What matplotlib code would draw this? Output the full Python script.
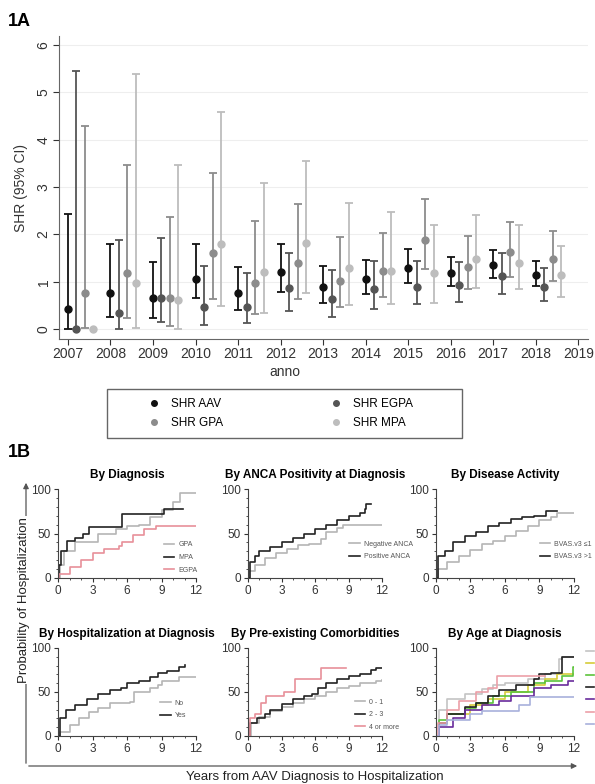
import numpy as np
import matplotlib
matplotlib.use('Agg')
import matplotlib.pyplot as plt
from matplotlib.lines import Line2D
from matplotlib.patches import FancyArrowPatch, Rectangle
from matplotlib.ticker import MultipleLocator

plt.rcParams['font.family'] = ['Liberation Sans', 'DejaVu Sans']

# ---- 1A: SHR per anno ----
YEARS = np.arange(2007, 2019)
nan = np.nan

shr_aav = [0.42, 0.77, 0.65, 1.05, 0.77, 1.20, 0.88, 1.05, 1.30, 1.19, 1.35, 1.14]
lo_aav  = [0.01, 0.25, 0.24, 0.66, 0.40, 0.79, 0.56, 0.74, 0.98, 0.92, 1.08, 0.91]
hi_aav  = [2.43, 1.79, 1.41, 1.79, 1.32, 1.79, 1.33, 1.46, 1.70, 1.53, 1.68, 1.43]

shr_egpa = [0.00, 0.33, 0.65, 0.46, 0.47, 0.86, 0.63, 0.84, 0.89, 0.93, 1.13, 0.89]
lo_egpa  = [0.00, 0.01, 0.14, 0.09, 0.13, 0.39, 0.26, 0.43, 0.53, 0.58, 0.75, 0.59]
hi_egpa  = [5.46, 1.88, 1.93, 1.34, 1.19, 1.61, 1.25, 1.43, 1.44, 1.42, 1.61, 1.30]

shr_gpa = [0.77, 1.18, 0.65, 1.60, 0.97, 1.39, 1.01, 1.23, 1.89, 1.32, 1.62, 1.48]
lo_gpa  = [0.02, 0.24, 0.07, 0.64, 0.32, 0.63, 0.46, 0.68, 1.26, 0.84, 1.10, 1.01]
hi_gpa  = [4.29, 3.46, 2.36, 3.29, 2.29, 2.64, 1.94, 2.02, 2.75, 1.96, 2.27, 2.08]

shr_mpa = [0.00, 0.97, 0.61, 1.79, 1.20, 1.81, 1.28, 1.23, 1.19, 1.49, 1.39, 1.14]
lo_mpa  = [nan,  0.02, 0.01, 0.49, 0.33, 0.77, 0.51, 0.53, 0.56, 0.86, 0.85, 0.68]
hi_mpa  = [nan,  5.39, 3.46, 4.58, 3.09, 3.56, 2.67, 2.47, 2.20, 2.40, 2.19, 1.75]

SERIES = [('SHR AAV', shr_aav, lo_aav, hi_aav, '#111111', 0.0),
          ('SHR EGPA', shr_egpa, lo_egpa, hi_egpa, '#555555', 0.2),
          ('SHR GPA', shr_gpa, lo_gpa, hi_gpa, '#8c8c8c', 0.4),
          ('SHR MPA', shr_mpa, lo_mpa, hi_mpa, '#bdbdbd', 0.6)]

# ---- 1B: incidenza cumulativa (tempo, %) ----
dx_gpa  = [(0, 0), (0.2, 15), (0.5, 30), (1.5, 40), (3.5, 49), (5, 55), (6, 58), (7, 60),
           (8, 68), (9, 76), (10, 85), (10.6, 95), (12, 95)]
dx_mpa  = [(0, 0), (0.1, 15), (0.3, 30), (0.8, 42), (1.5, 45), (2.2, 50), (2.7, 57),
           (5.6, 72), (9.2, 78), (10.9, 78)]
dx_egpa = [(0, 0), (0.1, 5), (1, 12), (2, 20), (3, 28), (4, 33), (5.3, 36), (5.6, 40),
           (6.5, 48), (7.5, 55), (8.5, 58), (12, 58)]

anca_neg = [(0, 0), (0.1, 8), (0.6, 15), (1.5, 22), (2.5, 28), (3.5, 33), (4.5, 37),
            (5.5, 38), (6.5, 44), (7, 52), (8, 56), (8.5, 60), (12, 60)]
anca_pos = [(0, 0), (0.2, 18), (0.6, 25), (1, 30), (2, 35), (3, 40), (4, 45), (5, 50),
            (6, 55), (7, 60), (8, 65), (9, 70), (10, 73), (10.5, 77), (10.6, 83), (11, 83)]

bvas_lo = [(0, 0), (0.2, 10), (1, 18), (2, 25), (3, 32), (4, 38), (5, 42), (6, 47),
           (7, 53), (8, 58), (9, 65), (10, 68), (10.5, 73), (12, 73)]
bvas_hi = [(0, 0), (0.2, 25), (0.8, 30), (1.5, 40), (2.5, 47), (3.5, 52), (4.5, 58),
           (5.5, 62), (6.5, 66), (7.5, 69), (8.5, 70), (9.6, 75), (10.5, 75)]

hosp_no  = [(0, 0), (0.2, 5), (1, 12), (1.8, 20), (2.7, 27), (3.5, 32), (4.5, 37),
            (5.5, 38), (6.3, 39), (6.6, 50), (8, 55), (8.7, 58), (9, 62), (10.5, 67), (12, 67)]
hosp_yes = [(0, 0), (0.2, 20), (0.7, 30), (1.5, 35), (2.5, 42), (3.5, 48), (4.5, 52),
            (5.5, 55), (6, 60), (7, 63), (8, 67), (8.7, 72), (9.5, 74), (10.5, 78), (11, 81)]

com_01   = [(0, 0), (0.3, 15), (1, 22), (2, 28), (3, 33), (4, 38), (5, 42), (6, 46),
            (7, 50), (8, 54), (9, 57), (10, 60), (11.5, 63), (12, 64)]
com_23   = [(0, 0), (0.2, 15), (0.8, 20), (1.5, 25), (2, 30), (3, 36), (4, 42), (5, 45),
            (5.7, 48), (6.3, 55), (7, 60), (8, 65), (9, 68), (10, 70), (11, 75), (11.5, 77), (12, 77)]
com_4    = [(0, 0), (0.2, 20), (0.6, 25), (1.2, 38), (1.6, 45), (3.2, 50), (4.2, 65),
            (6.5, 77), (8.8, 77)]

age_1 = [(0, 0), (0.3, 30), (1, 42), (2.5, 48), (4, 53), (5, 58), (6, 60), (8, 65),
         (9.5, 70), (10.7, 88), (11, 90), (12, 90)]
age_2 = [(0, 0), (0.3, 15), (1, 25), (3, 35), (4.5, 42), (6, 50), (8, 58), (9.5, 65),
         (10.5, 70), (12, 70)]
age_3 = [(0, 0), (0.3, 18), (1, 25), (2.5, 32), (3.5, 38), (5, 45), (6.5, 50), (8.5, 60),
         (9.5, 62), (11, 68), (11.9, 78), (12, 78)]
age_4 = [(0, 0), (0.3, 15), (1, 25), (2.5, 33), (3.5, 38), (4.5, 45), (5.5, 52), (7, 58),
         (8.5, 65), (9, 70), (10, 72), (11, 90), (12, 90)]
age_5 = [(0, 0), (0.3, 10), (1.5, 20), (2.5, 30), (4, 35), (5.5, 40), (6.5, 45), (8.5, 55),
         (10, 58), (11.5, 62), (12, 63)]
age_6 = [(0, 0), (0.2, 15), (1, 30), (2, 40), (3.5, 50), (4.5, 55), (5.3, 68), (9.5, 68)]
age_7 = [(0, 0), (0.3, 12), (1, 18), (3, 25), (4, 28), (7.2, 35), (8.2, 44), (12, 44)]

GRAY, BLACK, PINK = '#b5b5b5', '#222222', '#e8909a'

PANELS = [
    ('By Diagnosis', [('GPA', dx_gpa, GRAY), ('MPA', dx_mpa, BLACK), ('EGPA', dx_egpa, PINK)]),
    ('By ANCA Positivity at Diagnosis', [('Negative ANCA', anca_neg, GRAY),
                                         ('Positive ANCA', anca_pos, BLACK)]),
    ('By Disease Activity', [('BVAS.v3 \u22641', bvas_lo, GRAY), ('BVAS.v3 >1', bvas_hi, BLACK)]),
    ('By Hospitalization at Diagnosis', [('No', hosp_no, GRAY), ('Yes', hosp_yes, BLACK)]),
    ('By Pre-existing Comorbidities', [('0 - 1', com_01, GRAY), ('2 - 3', com_23, BLACK),
                                       ('4 or more', com_4, PINK)]),
    ('By Age at Diagnosis', [(' ', age_1, '#c4c4c4'), (' ', age_2, '#d6cc3a'),
                             (' ', age_3, '#5cc43c'), (' ', age_4, BLACK),
                             (' ', age_5, '#6a2c9c'), (' ', age_6, '#eca0a8'),
                             (' ', age_7, '#a8b0dc')]),
]

W, H = 595, 784
fig = plt.figure(figsize=(W/100, H/100), dpi=100)


def fx(px): return px / W
def fy(py): return 1 - py / H


# ---------------- 1A ----------------
ax = fig.add_axes([fx(59), fy(339), fx(529), 303/H])
for lbl, v, lo, hi, col, off in SERIES:
    v = np.array(v); lo = np.array(lo); hi = np.array(hi)
    ax.errorbar(YEARS + off, v, yerr=[v - lo, hi - v], fmt='o', color=col, ms=5,
                elinewidth=1.3, capsize=3, capthick=1.3, label=lbl, zorder=3)
ax.set_xlim(2006.79, 2019.23)
ax.set_ylim(-0.21, 6.19)
ax.set_xticks(np.arange(2007, 2020))
ax.set_yticks(range(7))
ax.tick_params(axis='x', labelsize=10, colors='#333333', length=4, pad=2)
ax.tick_params(axis='y', labelsize=10, colors='#333333', length=4, labelrotation=90, pad=2)
for t in ax.get_yticklabels():
    t.set_va('center')
ax.set_ylabel('SHR (95% CI)', fontsize=10, color='#333333', labelpad=6)
ax.yaxis.grid(True, color='#eeeeee', lw=0.8, zorder=0)
ax.set_axisbelow(True)
for sp in ['top', 'right']: ax.spines[sp].set_visible(False)
for sp in ['left', 'bottom']: ax.spines[sp].set_color('#666666')
fig.text(fx(285), fy(372), 'anno', ha='center', va='center', fontsize=10, color='#333333')

# riquadro legenda
fig.add_artist(Rectangle((fx(107), fy(438)), fx(355), 49/H, transform=fig.transFigure,
                         fill=False, edgecolor='#666666', lw=1.0))
handles = [Line2D([], [], ls='none', marker='o', ms=4, color=s[4]) for s in SERIES]
labels = [s[0] for s in SERIES]
order = [0, 2, 1, 3]
fig.legend([handles[i] for i in order], [labels[i] for i in order], ncol=2,
           loc='center', bbox_to_anchor=(fx(280), fy(413.5)), fontsize=8.5,
           frameon=False, handlelength=1.2, handletextpad=0.8, columnspacing=9.0,
           labelspacing=0.55, borderaxespad=0, borderpad=0)

fig.text(fx(8), fy(22), '1A', ha='left', va='center', fontsize=13, fontweight='bold')
fig.text(fx(8), fy(453), '1B', ha='left', va='center', fontsize=13, fontweight='bold')

# ---------------- 1B ----------------
COLS = [(58, 138), (248, 134), (436, 138)]
ROWS = [(578, 89), (736, 88)]
LEG_POS = [(1.01, 0.05), (1.23, 0.2), (1.13, 0.2), (0.93, 0.19), (1.13, 0.06), (1.19, 1.0)]

for k, (title, curves) in enumerate(PANELS):
    cx, cw = COLS[k % 3]
    ry, rh = ROWS[k // 3]
    a = fig.add_axes([fx(cx), fy(ry), fx(cw), rh/H])
    for lbl, pts, col in curves:
        t = [p[0] for p in pts]
        y = [p[1] for p in pts]
        a.step(t, y, where='post', color=col, lw=1.2, label=lbl)
    a.set_xlim(0, 12)
    a.set_ylim(0, 100)
    a.set_xticks([0, 3, 6, 9, 12])
    a.set_yticks([0, 50, 100])
    a.xaxis.set_minor_locator(MultipleLocator(1))
    a.yaxis.set_minor_locator(MultipleLocator(10))
    a.tick_params(which='major', labelsize=8.5, length=3, colors='#333333', pad=2)
    a.tick_params(which='minor', length=1.5, colors='#333333')
    for sp in ['top', 'right']: a.spines[sp].set_visible(False)
    for sp in ['left', 'bottom']: a.spines[sp].set_color('#444444')
    a.set_title(title, fontsize=8.5, fontweight='bold', pad=8)
    lg = a.legend(loc='lower right' if k != 5 else 'upper right',
                  bbox_to_anchor=LEG_POS[k], fontsize=5, frameon=False,
                  handlelength=1.5 if k != 5 else 1.2, handletextpad=0.6,
                  labelspacing=0.8 if k != 5 else 0.75, borderaxespad=0, borderpad=0)
    for txt in lg.get_texts():
        txt.set_color('#555555')

# assi esterni con frecce
fig.add_artist(FancyArrowPatch((fx(26), fy(766)), (fx(26), fy(480)), transform=fig.transFigure,
                               arrowstyle='-|>', mutation_scale=8, color='#555555', lw=0.9))
fig.add_artist(FancyArrowPatch((fx(26), fy(766)), (fx(580), fy(766)), transform=fig.transFigure,
                               arrowstyle='-|>', mutation_scale=8, color='#555555', lw=0.9))
fig.text(fx(24), fy(600), 'Probability of Hospitalization', rotation=90, ha='center',
         va='center', fontsize=9.5, color='#222222',
         bbox=dict(facecolor='white', edgecolor='none', pad=0.5))
fig.text(fx(315), fy(777), 'Years from AAV Diagnosis to Hospitalization', ha='center',
         va='center', fontsize=9.5, color='#222222')

fig.savefig('out.png', dpi=100)
